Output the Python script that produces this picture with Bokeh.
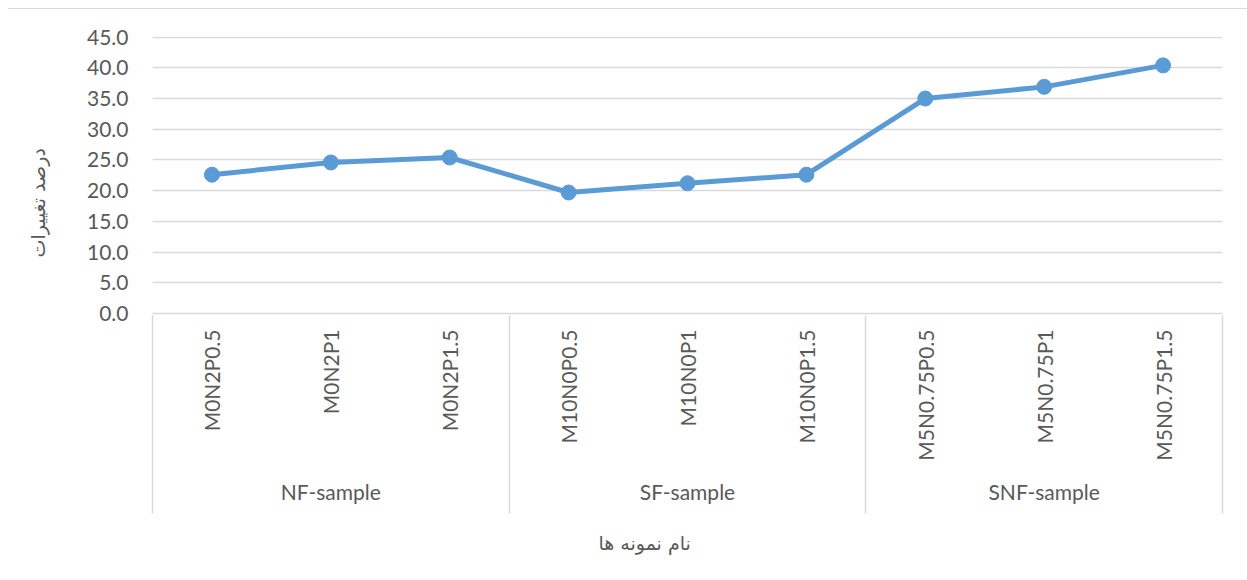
import math
from bokeh.plotting import figure
from bokeh.models import (Range1d, LinearAxis, FixedTicker, Title,
                          PrintfTickFormatter, ColumnDataSource)
from bokeh.embed import file_html
from bokeh.resources import INLINE

# ---- data ----
groups = ["NF-sample", "SF-sample", "SNF-sample"]
group_sizes = [3, 3, 3]
samples = ["M0N2P0.5", "M0N2P1", "M0N2P1.5",
           "M10N0P0.5", "M10N0P1", "M10N0P1.5",
           "M5N0.75P0.5", "M5N0.75P1", "M5N0.75P1.5"]
values = [22.6, 24.6, 25.4, 19.7, 21.2, 22.6, 35.0, 36.9, 40.4]
y_ticks = [0, 5, 10, 15, 20, 25, 30, 35, 40, 45]
y_title = "درصد تغییرات"
x_title = "نام نمونه ها"

# ---- styles ----
BLUE = "#5B9BD5"
GRID = "#D9D9D9"
TEXT = "#595959"
FONT = "Lato"
AR_FONT = "DejaVu Sans"

# category slot centres (each sample occupies one unit on the x scale)
xpos = [i + 0.5 for i in range(len(samples))]
src = ColumnDataSource(dict(x=xpos, y=values))

p = figure(width=1259, height=571,
           x_range=Range1d(0, len(samples)),
           y_range=Range1d(0, 45.1),
           output_backend="svg", toolbar_location=None,
           min_border_left=164, min_border_right=25,
           min_border_top=28, min_border_bottom=266)
p.outline_line_color = None
p.background_fill_color = "white"
p.border_fill_color = None
p.styles = {
    "margin-top": "8px",
    "margin-left": "-12px",
    "background": "linear-gradient(#D9D9D9, #D9D9D9) 20px 0 / 100% 1px no-repeat, white",
}

p.xgrid.visible = False
p.ygrid.grid_line_color = GRID
p.ygrid.grid_line_width = 1.5

# y axis
ya = p.yaxis[0]
ya.ticker = FixedTicker(ticks=y_ticks)
ya.formatter = PrintfTickFormatter(format="%.1f")
ya.axis_line_color = None
ya.major_tick_line_color = None
ya.minor_tick_line_color = None
ya.major_tick_out = 0
ya.major_tick_in = 0
ya.major_label_standoff = 24
ya.major_label_text_font = FONT
ya.major_label_text_font_size = "21px"
ya.major_label_text_color = TEXT

# sample-name axis
xa = p.xaxis[0]
xa.ticker = FixedTicker(ticks=xpos, minor_ticks=[])
xa.major_label_overrides = {x: s for x, s in zip(xpos, samples)}
xa.axis_line_color = GRID
xa.axis_line_width = 1.5
xa.major_tick_line_color = None
xa.minor_tick_line_color = None
xa.major_tick_out = 0
xa.major_tick_in = 0
xa.major_label_orientation = math.pi / 2
xa.major_label_standoff = 16
xa.major_label_text_font = FONT
xa.major_label_text_font_size = "21px"
xa.major_label_text_color = TEXT

# group axis (labels at group centres, separators as minor ticks at boundaries)
bounds = [0]
for n in group_sizes:
    bounds.append(bounds[-1] + n)
centers = [(a + b) / 2 for a, b in zip(bounds[:-1], bounds[1:])]
ga = LinearAxis(ticker=FixedTicker(ticks=centers, minor_ticks=bounds),
                major_label_overrides={c: g for c, g in zip(centers, groups)})
ga.axis_line_color = None
ga.major_tick_line_color = None
ga.major_tick_out = 0
ga.major_tick_in = 0
ga.minor_tick_line_color = GRID
ga.minor_tick_line_width = 1.5
ga.minor_tick_in = 148
ga.minor_tick_out = 50
ga.major_label_standoff = -35
ga.major_label_text_font = FONT
ga.major_label_text_font_size = "21px"
ga.major_label_text_color = TEXT
p.add_layout(ga, "below")

# axis titles
p.add_layout(Title(text=x_title, align="left", offset=446, standoff=47,
                   text_font=AR_FONT, text_font_size="19px",
                   text_font_style="normal", text_color=TEXT), "below")
p.add_layout(Title(text=y_title, align="left", offset=56, standoff=72,
                   text_font=AR_FONT, text_font_size="19px",
                   text_font_style="normal", text_color=TEXT), "left")

# series
p.line(x="x", y="y", source=src, line_color=BLUE, line_width=5, line_join="round")
p.scatter(x="x", y="y", source=src, size=15, fill_color=BLUE, line_color=BLUE)

open("out.html", "w").write(file_html(p, INLINE))
